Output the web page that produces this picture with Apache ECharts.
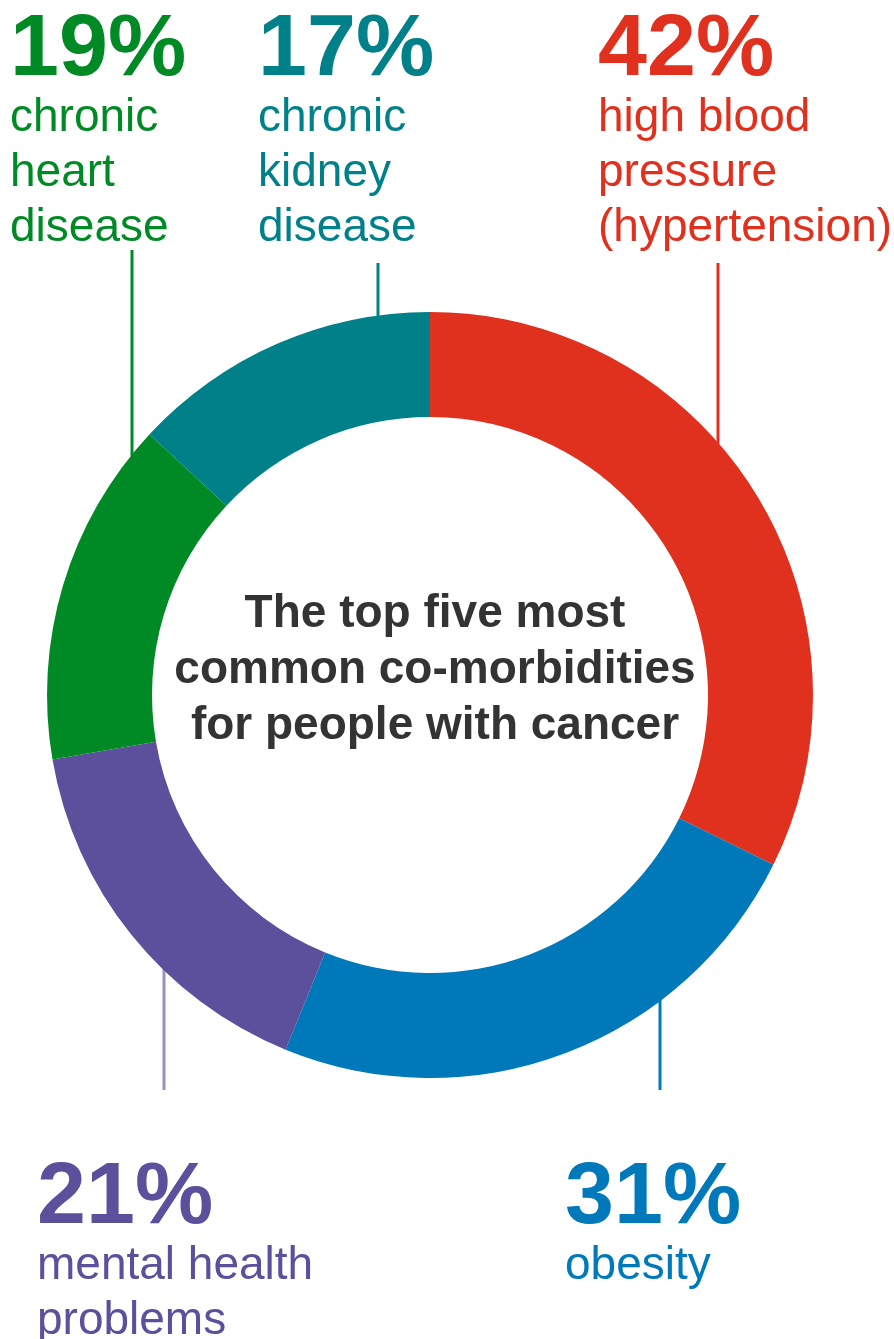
<!DOCTYPE html>
<html>
<head>
<meta charset="utf-8">
<script src="https://cdn.jsdelivr.net/npm/echarts@6/dist/echarts.min.js"></script>
<style>
html,body{margin:0;padding:0;background:#fff;}
#chart{width:894px;height:1339px;}
</style>
</head>
<body>
<div id="chart"></div>
<script>
// ---- data ----
var categories = ['high blood pressure (hypertension)', 'obesity', 'mental health problems', 'chronic heart disease', 'chronic kidney disease'];
var labelLines = ['high blood\npressure\n(hypertension)', 'obesity', 'mental health\nproblems', 'chronic\nheart\ndisease', 'chronic\nkidney\ndisease'];
var values = [42, 31, 21, 19, 17];
var colors = ['#e0301e', '#0079bb', '#5c4f9b', '#008a26', '#008088'];
var lineColors = ['#e0301e', '#0079bb', '#9a90c4', '#008a26', '#008088'];
var centerTitle = 'The top five most\ncommon co-morbidities\nfor people with cancer';

// ---- layout ----
var W = 894, H = 1339;
var CX = 430, CY = 695, R_OUT = 383, R_IN = 278;
var labelPos = [
  {x: 598, y: 11, lx: 718, ly: 263, side: 'top'},
  {x: 565, y: 1159, lx: 660, ly: 1090, side: 'bottom'},
  {x: 37, y: 1159, lx: 164, ly: 1090, side: 'bottom'},
  {x: 10, y: 11, lx: 132, ly: 250, side: 'top'},
  {x: 258, y: 11, lx: 378, ly: 263, side: 'top'}
];

var FONT = '"Liberation Sans", Arial, Helvetica, sans-serif';

var data = categories.map(function (c, i) {
  return {
    name: c,
    value: values[i],
    itemStyle: {color: colors[i]},
    label: {color: colors[i]},
    labelLine: {lineStyle: {color: lineColors[i]}}
  };
});

var chart = echarts.init(document.getElementById('chart'), null, {renderer: 'canvas'});
chart.setOption({
  animation: false,
  backgroundColor: '#ffffff',
  title: {
    text: centerTitle,
    left: CX,
    top: 581,
    textAlign: 'center',
    textStyle: {
      fontFamily: FONT,
      fontSize: 46,
      fontWeight: 'bold',
      lineHeight: 56,
      color: '#333333'
    }
  },
  series: [{
    type: 'pie',
    center: [CX, CY],
    radius: [R_IN, R_OUT],
    startAngle: 90,
    clockwise: true,
    silent: true,
    itemStyle: {borderWidth: 0},
    data: data,
    label: {
      show: true,
      position: 'outside',
      overflow: 'none',
      edgeDistance: 0,
      bleedMargin: 0,
      fontFamily: FONT,
      formatter: function (p) {
        var lines = labelLines[p.dataIndex].split('\n').map(function (t) { return '{t|' + t + '}'; });
        return '{p|' + p.value + '%}\n' + lines.join('\n');
      },
      rich: {
        p: {fontFamily: FONT, fontSize: 88, fontWeight: 'bold', lineHeight: 80},
        t: {fontFamily: FONT, fontSize: 46, lineHeight: 55}
      }
    },
    labelLine: {show: true, length: 10, length2: 10, lineStyle: {width: 3}},
    labelLayout: function (params) {
      var L = labelPos[params.dataIndex];
      var dx = L.lx - CX;
      var dy = Math.sqrt(Math.max(0, R_OUT * R_OUT - dx * dx));
      var edgeY = L.side === 'top' ? CY - dy + 2 : CY + dy - 2;
      return {
        x: L.x,
        y: L.y,
        align: 'left',
        verticalAlign: 'top',
        labelLinePoints: [[L.lx, edgeY], [L.lx, (edgeY + L.ly) / 2], [L.lx, L.ly]]
      };
    }
  }]
});
</script>
</body>
</html>
